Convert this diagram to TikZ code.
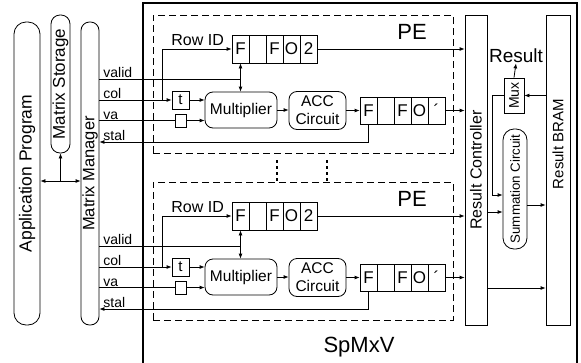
\documentclass[tikz,border=0pt]{standalone}
\usepackage{fontspec}
\setmainfont{Liberation Sans}
\usetikzlibrary{arrows.meta}
\newcommand\fsz[1]{\fontsize{#1}{#1}\selectfont}
\begin{document}
\begin{tikzpicture}[x=1pt,y=-1pt, line width=0.8pt,
  box/.style={draw, inner sep=0pt},
  lbl/.style={inner sep=0pt},
  cell/.style={draw, inner sep=0pt, minimum width=17pt, minimum height=28pt, font=\fsz{17}},
  arr/.style={-{Latex[length=5pt,width=4pt]}},
  darr/.style={{Latex[length=5pt,width=4pt]}-{Latex[length=5pt,width=4pt]}},
  pebox/.style={draw, dash pattern=on 7pt off 4pt, inner sep=0pt},
  sig/.style={anchor=base west, inner sep=0pt, font=\fsz{14}},
  gapline/.style={line width=1.6pt, dash pattern=on 3pt off 3pt},
]
\useasboundingbox (0,0) rectangle (581,362);
\fill[white] (0,0) rectangle (581,362);
% outer SpMxV box
\node[box, line width=1.1pt, minimum width=434pt, minimum height=366pt] (spmxv) at (360,186) {};
\node[lbl, font=\fsz{22}] (spl) at (359,347) {SpMxV};
% left column
\node[box, rounded corners=12pt, minimum width=26pt, minimum height=303pt] (app) at (27,173.5) {};
\node[lbl, rotate=90, font=\fsz{17.5}] (appt) at (app.center) {Application Program};
\node[box, rounded corners=9pt, minimum width=19pt, minimum height=138pt] (stor) at (60.5,84) {};
\node[lbl, rotate=90, font=\fsz{17}] (stort) at (stor.center) {Matrix Storage};
\node[box, rounded corners=8.5pt, minimum width=18pt, minimum height=303pt] (mgr) at (90,173.5) {};
\node[lbl, rotate=90, font=\fsz{16.5}] (mgrt) at (mgr.center) {Matrix Manager};
\coordinate (j5) at (0,181);
\draw[darr] (app.east |- j5) -- (mgr.west |- j5);
\coordinate (j6) at (stor.south |- j5);
\draw[arr] (j6) -- (stor.south);
% right side
\node[box, minimum width=22pt, minimum height=310pt] (ctrl) at (476,170) {};
\node[lbl, rotate=90, font=\fsz{16}] (ctrlt) at (ctrl.center) {Result Controller};
\node[box, minimum width=24pt, minimum height=310pt] (bram) at (558,170) {};
\node[lbl, rotate=90, font=\fsz{15}] (bramt) at (558,144) {Result BRAM};
\node[box, minimum width=20pt, minimum height=35pt] (mux) at (514,95.5) {};
\node[lbl, rotate=90, font=\fsz{14}] (muxt) at (mux.center) {Mux};
\node[box, rounded corners=11pt, minimum width=24pt, minimum height=120pt] (sum) at (515,189) {};
\node[lbl, rotate=90, font=\fsz{13.3}] (sumt) at (sum.center) {Summation Circuit};
\node[lbl, font=\fsz{19}] (res) at (516,56) {Result};
\draw[arr] (mux.north) -- (res.south);
\draw[arr] (bram.west |- mux.east) -- (mux.east);
\coordinate (j4) at (0,195);
\draw[arr] (mux.west) -- ++(-11,0) |- (sum.west |- j4);
\coordinate (j1) at (0,212);
\coordinate (j2) at (0,205);
\coordinate (j3) at (0,288);
\draw[arr] (ctrl.east |- j1) -- (sum.west |- j1);
\draw[arr] (sum.east |- j2) -- (bram.west |- j2);
\draw[arr] (ctrl.east |- j3) -- (bram.west |- j3);
% dots between PEs
\draw[gapline] (277,160) -- (277,181);
\draw[gapline] (327,160) -- (327,181);
% PEs
\foreach \off/\nm in {0/a,167/b}{
\begin{scope}[yshift=-\off pt]
  \node[pebox, minimum width=300pt, minimum height=138pt] (pe\nm) at (303,84) {};
  \node[lbl, font=\fsz{22}] (pel\nm) at (412,32) {PE};
  \node[cell] (q\nm1) at (240.5,49) {F};
  \node[cell] (q\nm2) at (257.5,49) {};
  \node[cell] (q\nm3) at (274.5,49) {F};
  \node[cell] (q\nm4) at (291.5,49) {O};
  \node[cell] (q\nm5) at (308.5,49) {2};
  \node[cell, minimum height=27pt] (p\nm1) at (368.5,110.5) {F};
  \node[cell, minimum height=27pt] (p\nm2) at (385.5,110.5) {};
  \node[cell, minimum height=27pt] (p\nm3) at (402.5,110.5) {F};
  \node[cell, minimum height=27pt] (p\nm4) at (419.5,110.5) {O};
  \node[cell, minimum height=27pt] (p\nm5) at (436.5,110.5) {´};
  \node[box, minimum width=17pt, minimum height=18pt, font=\fsz{15}] (tb\nm) at (180.5,100) {t};
  \node[box, minimum width=11pt, minimum height=13pt] (sb\nm) at (180.5,120.5) {};
  \node[box, rounded corners=8pt, minimum width=72pt, minimum height=36pt, font=\fsz{15.5}] (mult\nm) at (241,110) {Multiplier};
  \node[box, rounded corners=8pt, minimum width=57pt, minimum height=38pt, align=center, font=\fontsize{15.5}{18}\selectfont] (acc\nm) at (317.5,110.5) {ACC\\Circuit};
  \node[sig, font=\fsz{16}] (rid\nm) at (171,45) {Row ID};
  \node[sig] (lv\nm) at (103,77) {valid};
  \node[sig] (lc\nm) at (103,98) {col};
  \node[sig] (la\nm) at (103,119) {va};
  \node[sig] (ls\nm) at (103,140) {stal};
  \coordinate (v\nm) at (240.5,79);
  \coordinate (br\nm) at (162,100);
  \coordinate (st\nm) at (368.5,142);
  \draw (mgr.east |- v\nm) -- (v\nm);
  \draw[darr] (q\nm1.south) -- (q\nm1.south |- mult\nm.north);
  \draw[arr] (mgr.east |- tb\nm.west) -- (tb\nm.west);
  \draw[arr] (br\nm) |- (q\nm1.west);
  \draw[arr] (tb\nm.east) -- (tb\nm.east -| mult\nm.west);
  \draw (mgr.east |- sb\nm.west) -- (sb\nm.west);
  \draw[arr] (sb\nm.east) -- (sb\nm.east -| mult\nm.west);
  \draw[arr] (mult\nm.east) -- (mult\nm.east -| acc\nm.west);
  \draw[arr] (acc\nm.east) -- (acc\nm.east -| p\nm1.west);
  \draw[arr] (p\nm1.south) -- (st\nm) -- (mgr.east |- st\nm);
  \draw[arr] (q\nm5.east) -- (q\nm5.east -| ctrl.west);
  \draw[arr] (p\nm5.east) -- (p\nm5.east -| ctrl.west);
\end{scope}}
\end{tikzpicture}
\end{document}
